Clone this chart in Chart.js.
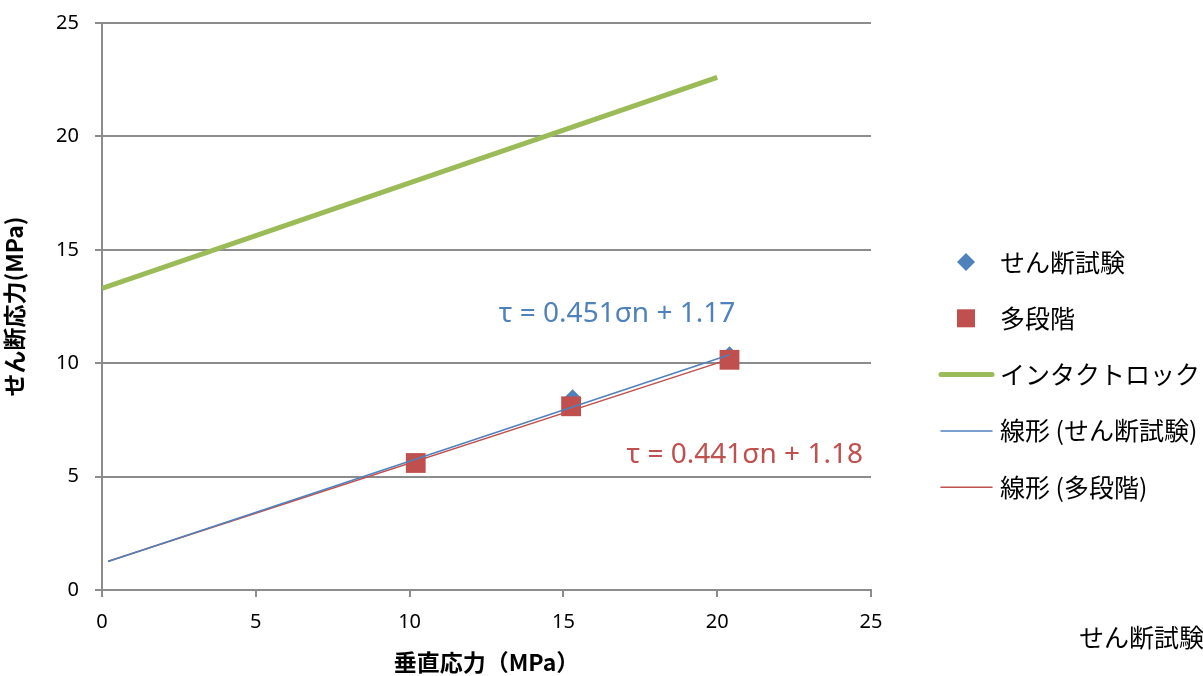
<!DOCTYPE html>
<html>
<head>
<meta charset="utf-8">
<script src="https://cdn.jsdelivr.net/npm/chart.js@4.4.1/dist/chart.umd.min.js"></script>
<style>
  html, body { margin: 0; padding: 0; background: #fff; }
  #wrap { width: 1203px; height: 676px; position: relative; }
</style>
</head>
<body>
<div id="wrap"><canvas id="chartShear"></canvas></div>
<script>
const ctx_shear = document.getElementById("chartShear");
const blueColor = "#4f81bd";
const redColor = "#c0504d";
const greenColor = "#9bbb59";
const gridColor = "#8c8c8c";
const fontMain = "'Noto Sans', 'Noto Sans CJK JP', sans-serif";
const fontJp = "'Noto Sans CJK JP', 'Noto Sans', sans-serif";

// normal stress (MPa) / shear stress (MPa)
const shearX = [10.2, 15.3, 20.4];
const shearY = [5.6, 8.45, 10.35];
const multiX = [10.2, 15.25, 20.4];
const multiY = [5.6, 8.1, 10.15];
const intactX = [0, 20];
const intactY = [13.3, 22.6];
const trendShearX = [0.2, 20.4];
const trendShearY = [1.26, 10.37];
const trendMultiX = [0.2, 20.4];
const trendMultiY = [1.27, 10.18];
const axisTicks = [0, 5, 10, 15, 20, 25];

const eqShear = "τ = 0.451σn + 1.17";
const eqMulti = "τ = 0.441σn + 1.18";

const pts = (xs, ys) => xs.map((x, i) => ({ x: x, y: ys[i] }));

// legend + equation labels drawn by hand, Excel style
const excelExtras = {
  id: "excelExtras",
  afterDraw(chart) {
    const c = chart.ctx;
    const xs = chart.scales.x;
    const ys = chart.scales.y;
    c.save();
    c.textBaseline = "middle";

    c.font = "28px " + fontMain;
    c.fillStyle = blueColor;
    c.textAlign = "left";
    c.fillText(eqShear, xs.getPixelForValue(12.9), ys.getPixelForValue(12.15));
    c.fillStyle = redColor;
    c.fillText(eqMulti, xs.getPixelForValue(17.05), ys.getPixelForValue(5.95));

    const items = [
      { label: "せん断試験", kind: "diamond", color: blueColor },
      { label: "多段階", kind: "square", color: redColor },
      { label: "インタクトロック", kind: "line", color: greenColor, w: 5 },
      { label: "線形 (せん断試験)", kind: "line", color: blueColor, w: 1.5 },
      { label: "線形 (多段階)", kind: "line", color: redColor, w: 1.5 }
    ];
    c.font = "25px " + fontJp;
    items.forEach((it, i) => {
      const y = 262 + i * 56.3;
      c.fillStyle = it.color;
      c.strokeStyle = it.color;
      if (it.kind === "diamond") {
        c.beginPath();
        c.moveTo(966, y - 9);
        c.lineTo(975, y);
        c.lineTo(966, y + 9);
        c.lineTo(957, y);
        c.closePath();
        c.fill();
      } else if (it.kind === "square") {
        c.fillRect(957, y - 9, 18, 18);
      } else {
        c.lineWidth = it.w;
        c.lineCap = "round";
        c.beginPath();
        c.moveTo(941, y);
        c.lineTo(992, y);
        c.stroke();
      }
      c.fillStyle = "#000";
      c.fillText(it.label, 1000, y);
    });

    // stray label at the bottom right edge
    c.fillText("せん断試験", 1079, 637);
    c.restore();
  }
};

new Chart(ctx_shear, {
  type: "scatter",
  data: {
    datasets: [
      {
        label: "線形 (せん断試験)",
        data: pts(trendShearX, trendShearY),
        showLine: true,
        borderColor: blueColor,
        borderWidth: 1.5,
        pointRadius: 0,
        order: 0
      },
      {
        label: "線形 (多段階)",
        data: pts(trendMultiX, trendMultiY),
        showLine: true,
        borderColor: redColor,
        borderWidth: 1.5,
        pointRadius: 0,
        order: 0
      },
      {
        label: "多段階",
        data: pts(multiX, multiY),
        pointStyle: "rect",
        pointRadius: 14,
        backgroundColor: redColor,
        borderColor: redColor,
        borderWidth: 0,
        order: 1
      },
      {
        label: "せん断試験",
        data: pts(shearX, shearY),
        pointStyle: "rectRot",
        pointRadius: 9,
        backgroundColor: blueColor,
        borderColor: blueColor,
        borderWidth: 0,
        order: 2
      },
      {
        label: "インタクトロック",
        data: pts(intactX, intactY),
        showLine: true,
        borderColor: greenColor,
        borderWidth: 5,
        pointRadius: 0,
        order: 3
      }
    ]
  },
  options: {
    responsive: true,
    maintainAspectRatio: false,
    animation: false,
    layout: { padding: { top: 23, right: 332, left: 0, bottom: 0 } },
    plugins: {
      legend: { display: false },
      tooltip: { enabled: false }
    },
    scales: {
      x: {
        type: "linear",
        min: 0,
        max: 25,
        afterBuildTicks: (s) => { s.ticks = axisTicks.map(v => ({ value: v })); },
        afterFit: (s) => { s.height = 86; },
        border: { color: gridColor, width: 2 },
        grid: { drawOnChartArea: false, color: gridColor, lineWidth: 2, tickLength: 7 },
        ticks: { color: "#000", padding: 13, font: { family: fontMain, size: 20 }, maxRotation: 0 },
        title: {
          display: true,
          text: "垂直応力（MPa）",
          color: "#000",
          padding: { top: 0, bottom: 0 },
          font: { family: fontJp, size: 23, weight: "bold" }
        }
      },
      y: {
        type: "linear",
        min: 0,
        max: 25,
        afterBuildTicks: (s) => { s.ticks = axisTicks.map(v => ({ value: v })); },
        afterFit: (s) => { s.width = 102; s.paddingTop = 0; s.paddingBottom = 0; },
        border: { color: gridColor, width: 2 },
        grid: { color: gridColor, lineWidth: 2, tickLength: 7 },
        ticks: { color: "#000", padding: 16, font: { family: fontMain, size: 20, lineHeight: 1 } },
        title: {
          display: true,
          text: "せん断応力(MPa)",
          color: "#000",
          padding: { top: 0, bottom: 0 },
          font: { family: fontJp, size: 23, weight: "bold" }
        }
      }
    }
  },
  plugins: [excelExtras]
});
</script>
</body>
</html>
